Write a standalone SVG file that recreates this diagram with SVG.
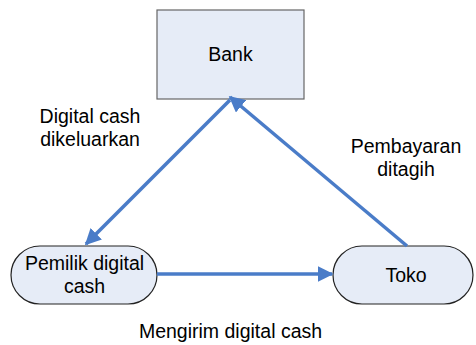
<svg xmlns="http://www.w3.org/2000/svg" width="476" height="345" viewBox="0 0 476 345">
<style>
.n{fill:#e6ecf7;stroke:#222;stroke-width:1.2}
.t{font-family:"Liberation Sans",Arial,sans-serif;font-size:19.5px;fill:#000;text-anchor:middle}
.c{stroke:#4a7cc8;stroke-width:3.5;fill:none}
</style>
<defs>
<marker id="ah" viewBox="0 0 10 10" refX="9" refY="5" markerWidth="4.6" markerHeight="4.6" orient="auto" markerUnits="strokeWidth">
<path d="M0,0 L10,5 L0,10 Z" fill="#4a7cc8"/>
</marker>
</defs>
<rect width="476" height="345" fill="#fff"/>
<g id="bank"><rect class="n" x="157" y="10" width="147" height="89" style="stroke:#666"/><text class="t" x="230.5" y="61">Bank</text></g>
<g id="pemilik"><rect class="n" x="11" y="246" width="146" height="58" rx="29"/><text class="t" x="84.5" y="270">Pemilik digital</text><text class="t" x="84.5" y="293">cash</text></g>
<g id="toko"><rect class="n" x="333" y="246" width="140" height="58" rx="29"/><text class="t" x="406" y="282">Toko</text></g>
<g id="connectors">
<line class="c" x1="230" y1="100" x2="86" y2="244" marker-end="url(#ah)"/>
<line class="c" x1="407" y1="246" x2="230" y2="97" marker-end="url(#ah)"/>
<line class="c" x1="157" y1="274" x2="332" y2="274" marker-end="url(#ah)"/>
</g>
<g id="labels">
<text class="t" x="90" y="123">Digital cash</text>
<text class="t" x="90" y="146">dikeluarkan</text>
<text class="t" x="406" y="153">Pembayaran</text>
<text class="t" x="406" y="176">ditagih</text>
<text class="t" x="230.5" y="338">Mengirim digital cash</text>
</g>
</svg>
